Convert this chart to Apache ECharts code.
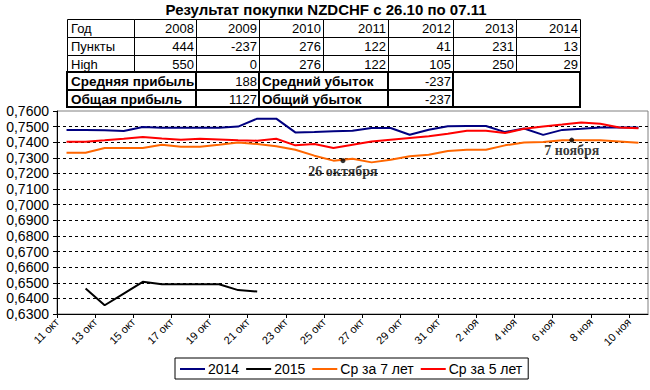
<!DOCTYPE html>
<html><head><meta charset="utf-8">
<script src="https://cdn.jsdelivr.net/npm/echarts@6/dist/echarts.min.js"></script>
<style>html,body{margin:0;padding:0;background:#fff}#c{width:650px;height:390px}</style>
</head><body><div id="c"></div>
<script>
// ---- data ----
const days = ['11 окт','12 окт','13 окт','14 окт','15 окт','16 окт','17 окт','18 окт','19 окт','20 окт',
  '21 окт','22 окт','23 окт','24 окт','25 окт','26 окт','27 окт','28 окт','29 окт','30 окт','31 окт',
  '1 ноя','2 ноя','3 ноя','4 ноя','5 ноя','6 ноя','7 ноя','8 ноя','9 ноя','10 ноя'];
const tickLabels = days.concat(['11 ноя']);
const seriesNames = ['2014','2015','Ср за 7 лет','Ср за 5 лет'];
const s2014 = [0.7478,0.7478,0.7476,0.7472,0.7497,0.7492,0.7492,0.7492,0.7492,0.7500,
  0.7551,0.7551,0.7463,0.7465,0.7470,0.7474,0.7491,0.7491,0.7448,0.7480,
  0.7502,0.7504,0.7504,0.7465,0.7488,0.7447,0.7479,0.7486,0.7495,0.7495,0.7495];
const s2015 = [null,0.6463,0.6356,0.6431,0.6506,0.6490,0.6490,0.6490,0.6490,0.6453,0.6444,
  null,null,null,null,null,null,null,null,null,null,null,null,null,null,null,null,null,null,null,null];
const sAvg7 = [0.7333,0.7333,0.7363,0.7363,0.7363,0.7384,0.7371,0.7371,0.7384,0.7399,
  0.7388,0.7374,0.7352,0.7314,0.7282,0.7294,0.7271,0.7288,0.7310,0.7320,
  0.7344,0.7352,0.7352,0.7380,0.7399,0.7401,0.7412,0.7412,0.7412,0.7405,0.7397];
const sAvg5 = [0.7403,0.7403,0.7412,0.7422,0.7433,0.7424,0.7416,0.7422,0.7418,0.7413,
  0.7410,0.7422,0.7380,0.7388,0.7363,0.7384,0.7405,0.7416,0.7427,0.7438,
  0.7455,0.7474,0.7474,0.7459,0.7486,0.7501,0.7513,0.7526,0.7518,0.7494,0.7490];
const annotDays = ['26 окт','7 ноя'];
const annotValues = [0.7282, 0.7414];
const annotTexts = ['26 октября','7 ноября'];

const tableYears = [2008,2009,2010,2011,2012,2013,2014];
const tablePoints = [444,-237,276,122,41,231,13];
const tableHigh = [550,0,276,122,105,250,29];
const avgProfit = 188, avgLoss = -237, totalProfit = 1127, totalLoss = -237;
const titleText = 'Результат покупки NZDCHF с 26.10 по 07.11';

// ---- table graphic ----
const colX = [67,134,196,259,323,388,453,516,580];
const rowY = [19,37,55,72,90,107];
const FONT = '"Liberation Sans", Arial, sans-serif';
const els = [];
function rect(x0,y0,x1,y1,lw){
  els.push({type:'rect',silent:true,shape:{x:x0,y:y0,width:x1-x0,height:y1-y0},
    style:{fill:'none',stroke:'#000',lineWidth:lw}});
}
function txt(s,x,y,align,bold,size){
  els.push({type:'text',silent:true,x:x,y:y,style:{text:String(s),textAlign:align,textVerticalAlign:'middle',
    font:(bold?'bold ':'')+(size||13)+'px '+FONT,fill:'#000'}});
}
txt(titleText,326,9,'center',true,15);
const rowLabels = ['Год','Пункты','High'];
const rowVals = [tableYears,tablePoints,tableHigh];
for(let r=0;r<3;r++){
  const cy=(rowY[r]+rowY[r+1])/2+0.5;
  for(let c=0;c<8;c++) rect(colX[c]+.5,rowY[r]+.5,colX[c+1]+.5,rowY[r+1]+.5,1);
  txt(rowLabels[r],colX[0]+4,cy,'left',false);
  for(let c=0;c<7;c++) txt(rowVals[r][c],colX[c+2]-2,cy,'right',false);
}
const sumRows = [['Средняя прибыль',avgProfit,'Средний убыток',avgLoss],['Общая прибыль',totalProfit,'Общий убыток',totalLoss]];
for(let k=0;k<2;k++){
  const r=3+k, cy=(rowY[r]+rowY[r+1])/2+0.5;
  rect(colX[0],rowY[r],colX[2],rowY[r+1],2);
  rect(colX[2],rowY[r],colX[3],rowY[r+1],2);
  rect(colX[3],rowY[r],colX[5],rowY[r+1],2);
  rect(colX[5],rowY[r],colX[6],rowY[r+1],2);
  txt(sumRows[k][0],colX[0]+4,cy,'left',true,13.5);
  txt(sumRows[k][1],colX[3]-2,cy,'right',false);
  txt(sumRows[k][2],colX[3]+3,cy,'left',true,13.5);
  txt(sumRows[k][3],colX[6]-2,cy,'right',false);
}
rect(colX[6],rowY[3],colX[8],rowY[5],2);

// ---- chart ----
const chart = echarts.init(document.getElementById('c'), null, {renderer:'svg'});
const splitColors = [];
for(let i=0;i<13;i++) splitColors.push('#000');
splitColors.push('transparent');

chart.setOption({
  animation:false,
  backgroundColor:'#fff',
  textStyle:{fontFamily:FONT},
  graphic:{elements:els},
  grid:{left:57,right:2,top:111,bottom:76,show:true,borderColor:'#808080',borderWidth:1,backgroundColor:'#fff'},
  legend:{data:seriesNames,left:175,top:358,padding:[4,6,3,5],itemGap:7,itemWidth:25,itemHeight:2,
    icon:'rect',borderColor:'#000',borderWidth:1,borderRadius:0,
    textStyle:{fontSize:14,color:'#000',fontFamily:FONT,padding:[0,0,0,-2]}},
  xAxis:[
    {type:'category',data:days,boundaryGap:true,show:false,position:'bottom'},
    {type:'category',data:tickLabels,boundaryGap:false,position:'bottom',offset:0,
      axisLine:{show:true,lineStyle:{color:'#000',width:1}},
      axisTick:{show:true,interval:1,length:4,lineStyle:{color:'#000'}},
      axisLabel:{interval:1,rotate:45,fontSize:11,color:'#000',margin:6,fontFamily:FONT},
      splitLine:{show:false}}
  ],
  yAxis:{type:'value',min:0.63,max:0.76,interval:0.01,
    axisLine:{show:true,lineStyle:{color:'#000',width:1}},
    axisTick:{show:true,length:4,lineStyle:{color:'#000'}},
    axisLabel:{fontSize:14,color:'#000',margin:8,fontFamily:FONT,
      formatter:v=>v.toFixed(4).replace('.',',')},
    splitLine:{show:true,lineStyle:{color:splitColors,type:[3,3],width:1}}},
  series:[
    {name:seriesNames[0],type:'line',data:s2014,xAxisIndex:0,symbol:'none',lineStyle:{color:'#000080',width:2},itemStyle:{color:'#000080'}},
    {name:seriesNames[1],type:'line',data:s2015,xAxisIndex:0,symbol:'none',lineStyle:{color:'#000000',width:2},itemStyle:{color:'#000000'}},
    {name:seriesNames[2],type:'line',data:sAvg7,xAxisIndex:0,symbol:'none',lineStyle:{color:'#FF6600',width:2},itemStyle:{color:'#FF6600'}},
    {name:seriesNames[3],type:'line',data:sAvg5,xAxisIndex:0,symbol:'none',lineStyle:{color:'#FF0000',width:2},itemStyle:{color:'#FF0000'}},
    {name:'annot',type:'scatter',xAxisIndex:1,symbolSize:5,itemStyle:{color:'#000'},z:5,
      data:annotDays.map((d,i)=>({value:[d,annotValues[i]],name:annotTexts[i]})),
      label:{show:true,position:'bottom',distance:1,formatter:p=>p.name,
        fontFamily:'"Liberation Serif", "Times New Roman", serif',fontWeight:'bold',fontSize:14,color:'#000'}}
  ]
});
</script></body></html>
